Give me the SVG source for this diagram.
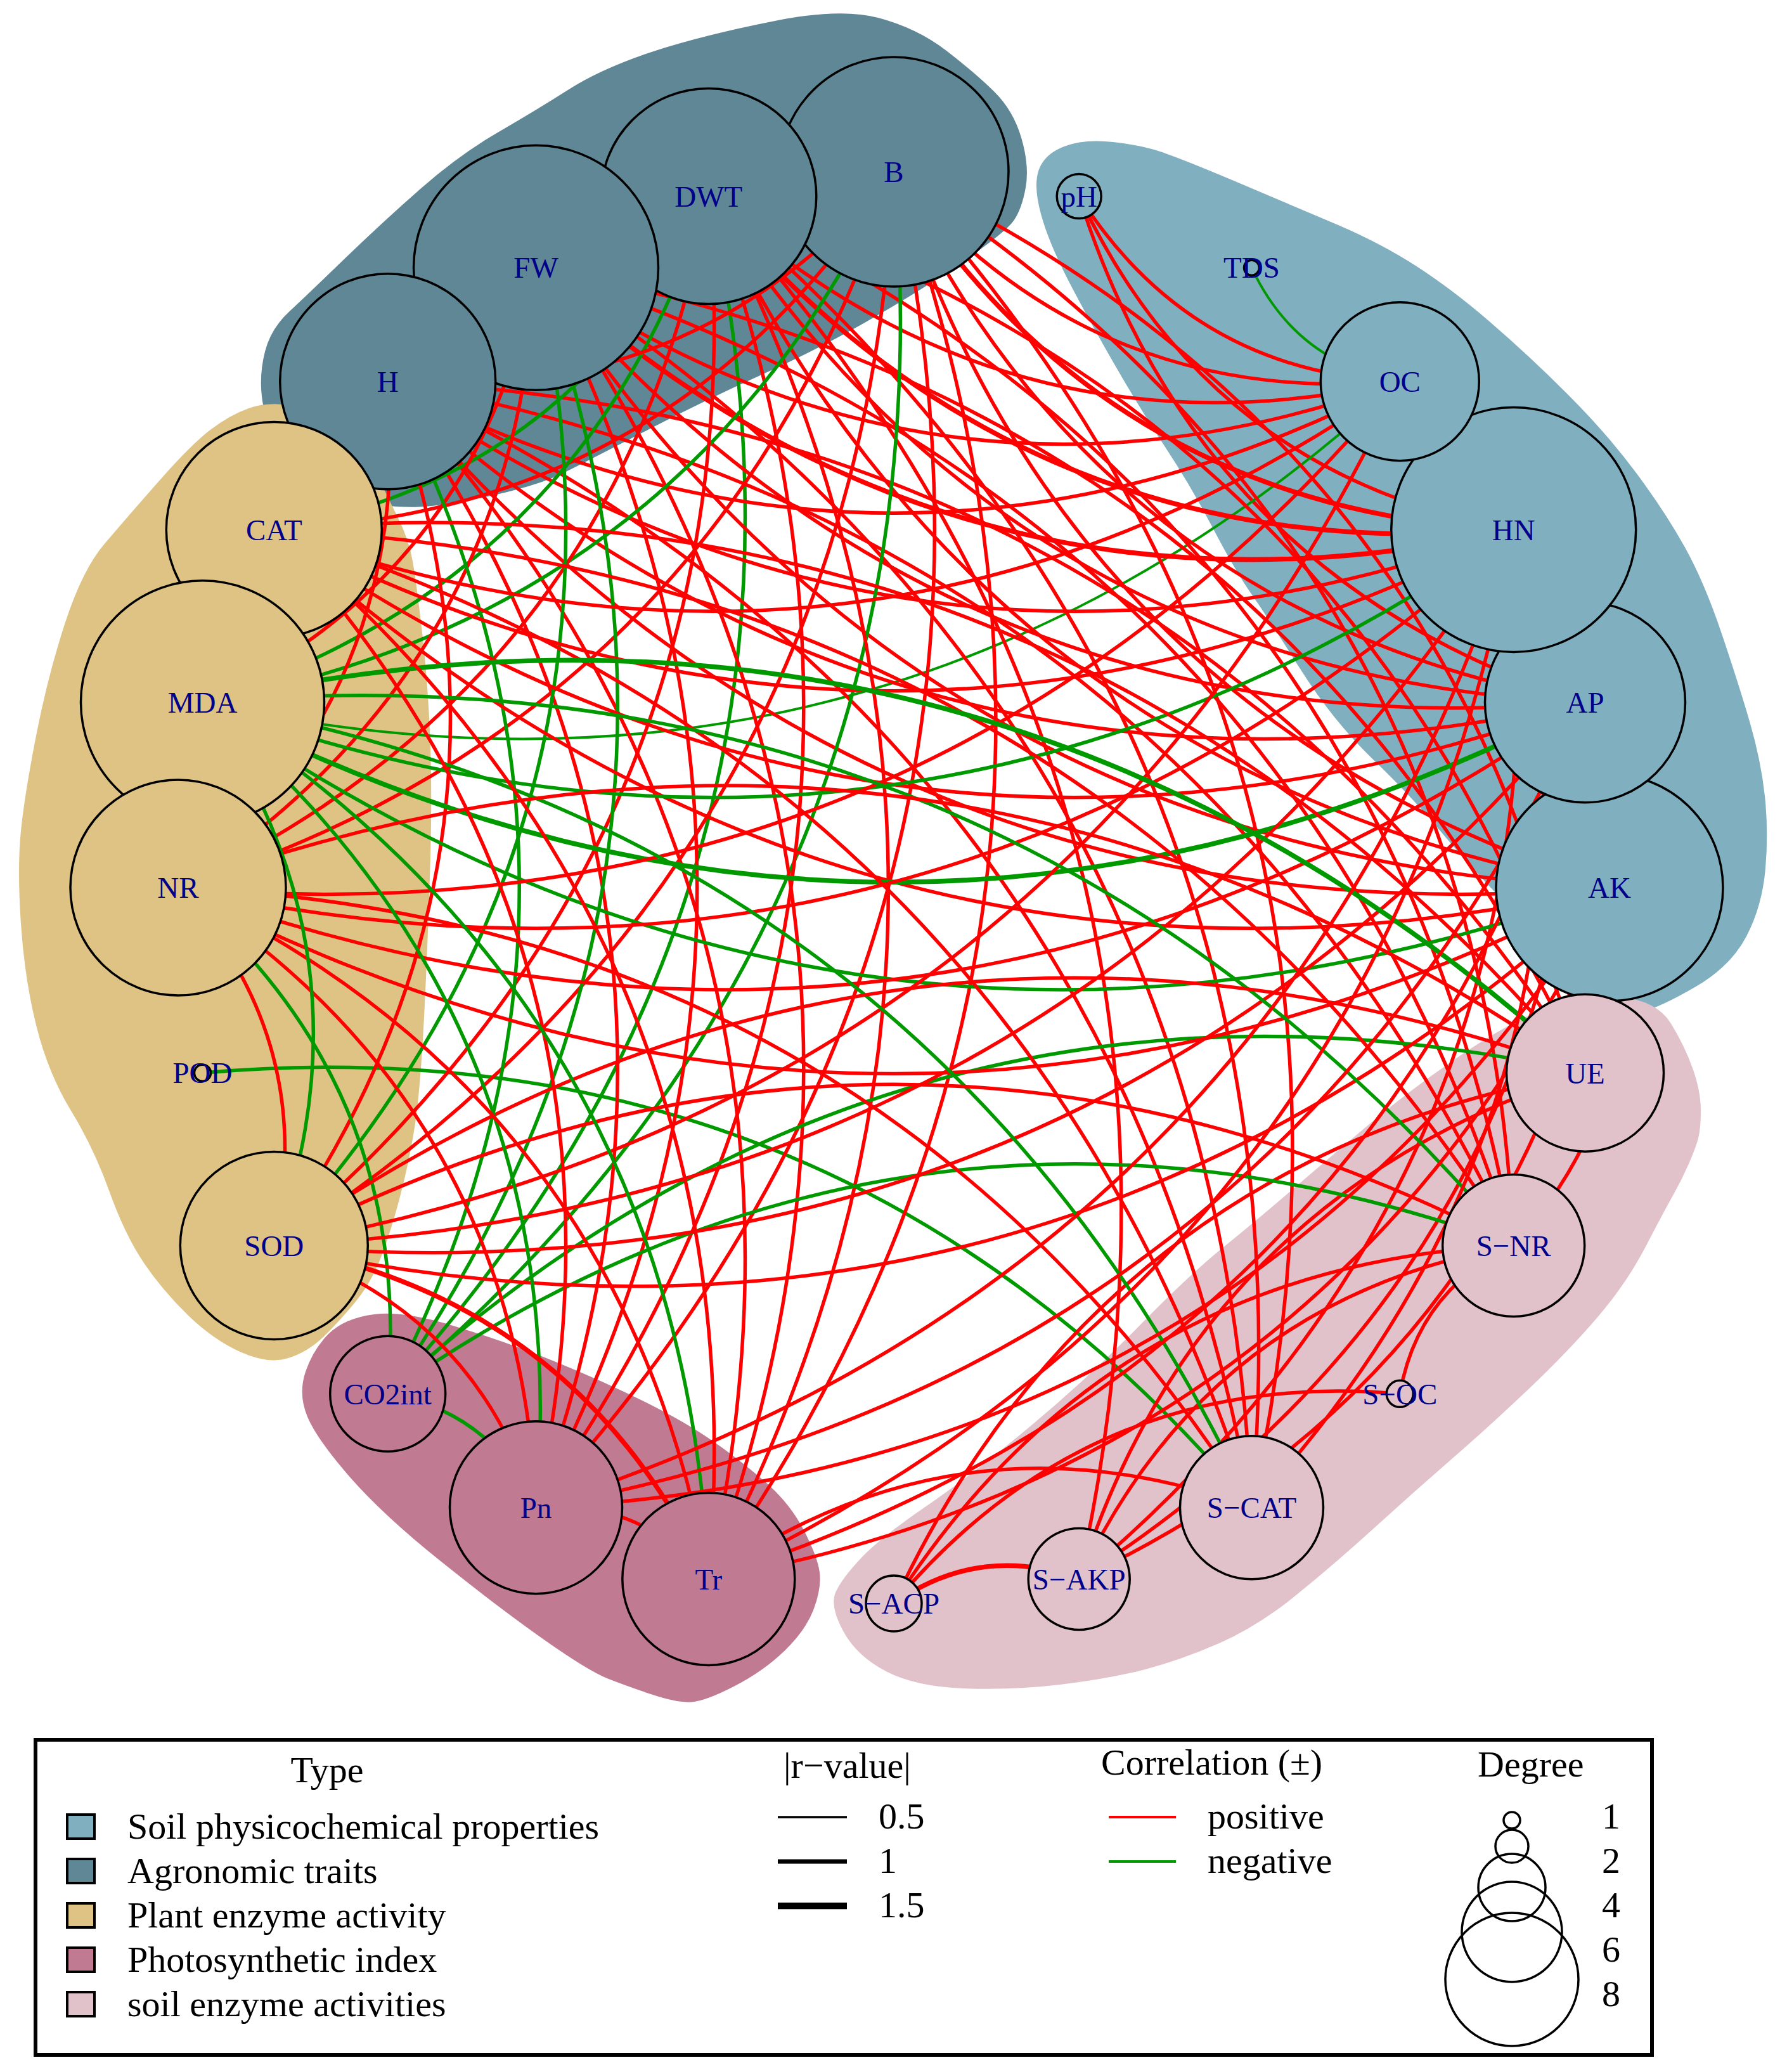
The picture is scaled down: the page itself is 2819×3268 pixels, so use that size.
<svg xmlns="http://www.w3.org/2000/svg" width="2819" height="3268" viewBox="0 0 2819 3268">
<style>
.hull{stroke-width:6;stroke-linejoin:round}
.h-sp{fill:#80AFC0;stroke:#80AFC0}.h-ag{fill:#5F8796;stroke:#5F8796}.h-pe{fill:#DEC385;stroke:#DEC385}.h-ph{fill:#C07A91;stroke:#C07A91}.h-se{fill:#E2C2CA;stroke:#E2C2CA}
#edges use{fill:none}
.r{stroke:#FF0000}.g{stroke:#009A00}
.w1{stroke-width:4}.w2{stroke-width:5.5}.w3{stroke-width:7.5}
.node circle{stroke:#000;stroke-width:3.5}
.sp{fill:#80AFC0}.ag{fill:#5F8796}.pe{fill:#DEC385}.ph{fill:#C07A91}.se{fill:#E2C2CA}
.lab{font-family:"Liberation Serif","Times New Roman",serif;font-size:47px;fill:#00008B;text-anchor:middle}
.lg{font-family:"Liberation Serif","Times New Roman",serif;font-size:58px;fill:#000}
</style>
<defs>
<path id="in15" d="M1262.6,280.7 Q1410,357.3 1557.4,280.7"/>
<path id="in30" d="M1117.8,309.5 Q1410,461.4 1702.2,309.5"/>
<path id="in45" d="M978,356.9 Q1410,581.6 1842,356.9"/>
<path id="in60" d="M845.5,422.3 Q1410,715.8 1974.5,422.3"/>
<path id="in75" d="M722.7,504.3 Q1410,861.7 2097.3,504.3"/>
<path id="in90" d="M611.7,601.7 Q1410,1016.8 2208.3,601.7"/>
<path id="in105" d="M514.3,712.7 Q1410,1178.5 2305.7,712.7"/>
<path id="in120" d="M432.3,835.5 Q1410,1343.9 2387.7,835.5"/>
<path id="in135" d="M366.9,968 Q1410,1510.4 2453.1,968"/>
<path id="in150" d="M319.5,1107.8 Q1410,1674.9 2500.5,1107.8"/>
<path id="in165" d="M290.7,1252.6 Q1410,1834.7 2529.3,1252.6"/>
<path id="in180" d="M281,1400 Q1410,1987.1 2539,1400"/>
<path id="out15" d="M1262.6,280.7 Q1410,204.1 1557.4,280.7"/>
<path id="out30" d="M1117.8,309.5 Q1410,157.6 1702.2,309.5"/>
<path id="out45" d="M978,356.9 Q1410,132.2 1842,356.9"/>
<path id="out75" d="M722.7,504.3 Q1410,146.9 2097.3,504.3"/>
<path id="out90" d="M611.7,601.7 Q1410,186.6 2208.3,601.7"/>
<path id="out105" d="M514.3,712.7 Q1410,246.9 2305.7,712.7"/>
<path id="out120" d="M432.3,835.5 Q1410,327.1 2387.7,835.5"/>
<path id="out135" d="M366.9,968 Q1410,425.6 2453.1,968"/>
<path id="out150" d="M319.5,1107.8 Q1410,540.7 2500.5,1107.8"/>
<path id="out165" d="M290.7,1252.6 Q1410,670.5 2529.3,1252.6"/>
</defs>
<rect x="0" y="0" width="2819" height="3268" fill="#FFFFFF"/>
<g id="groups">
<path id="group-soil-physicochemical" class="hull h-sp" d="M1645,337 Q1633,293 1641.5,269 Q1650,245 1680.5,233.5 Q1711,222 1755.5,227 Q1800,232 1830,242 Q1860,252 1951.5,290.5 Q2043,329 2110.5,358 Q2178,387 2233,422.5 Q2288,458 2349,510.5 Q2410,563 2471.5,624.5 Q2533,686 2579,748 Q2625,810 2655.5,865 Q2686,920 2713,1000 Q2740,1080 2757.5,1140 Q2775,1200 2781,1255.5 Q2787,1311 2782,1369.5 Q2777,1428 2752.5,1475 Q2728,1522 2673,1554 Q2618,1586 2589,1593 Q2560,1600 2494.5,1537.5 Q2429,1475 2377,1422 Q2325,1369 2276,1310.5 Q2227,1252 2166,1193.5 Q2105,1135 2053,1052.5 Q2001,970 1976.5,935 Q1952,900 1916,831.5 Q1880,763 1841,704 Q1802,645 1760,572 Q1718,499 1687.5,440 Q1657,381 1645,337 Z"/>
<path id="group-agronomic" class="hull h-ag" d="M416,625 Q412,590 421,555 Q430,520 457.5,494.5 Q485,469 545.5,410.5 Q606,352 666.5,299 Q727,246 787.5,211 Q848,176 899,143.5 Q950,111 1031,84 Q1112,58 1218,37 Q1324,15 1384.5,31 Q1445,47 1490.5,82 Q1536,117 1566,146.5 Q1596,176 1608.5,219 Q1621,262 1615,295.5 Q1609,329 1596.5,346.5 Q1584,364 1520.5,408 Q1457,452 1375.5,499 Q1294,546 1203,587 Q1112,628 1021,675 Q930,722 889,742.5 Q848,763 774,779 Q700,795 660,796.5 Q620,798 570,789 Q520,780 487.5,750 Q455,720 437.5,690 Q420,660 416,625 Z"/>
<path id="group-plant-enzyme" class="hull h-pe" d="M251.5,762.5 Q303,704 333.5,680.5 Q364,657 394,646.5 Q424,636 462,643 Q500,650 535,675 Q570,700 588,740 Q606,780 624,815.5 Q642,851 648,885.5 Q654,920 663,998 Q672,1076 675.5,1164 Q679,1252 675.5,1369.5 Q672,1487 666,1604 Q660,1721 651,1778 Q642,1835 627,1891 Q612,1947 597,1985 Q582,2023 557.5,2052.5 Q533,2082 509,2105.5 Q485,2129 454.5,2139 Q424,2149 381.5,2130 Q339,2111 299.5,2073 Q260,2035 230,1991 Q200,1947 175.5,1878.5 Q151,1810 115,1751 Q79,1692 60.5,1618.5 Q42,1545 36,1457 Q30,1369 36,1310.5 Q42,1252 60.5,1158 Q79,1064 106,982 Q133,900 166.5,860.5 Q200,821 251.5,762.5 Z"/>
<path id="group-photosynthetic" class="hull h-ph" d="M488,2234 Q473,2199 485,2164 Q497,2129 521,2105.5 Q545,2082 590.5,2076 Q636,2070 718,2095 Q800,2120 875,2150.5 Q950,2181 1015.5,2213.5 Q1081,2246 1126.5,2278 Q1172,2310 1208.5,2342.5 Q1245,2375 1266,2416 Q1287,2457 1290,2480.5 Q1293,2504 1281,2536.5 Q1269,2569 1236,2601 Q1203,2633 1157.5,2656.5 Q1112,2680 1090.5,2681.5 Q1069,2683 1030,2670 Q991,2657 960.5,2645 Q930,2633 859,2583 Q788,2533 697,2460 Q606,2387 554.5,2328 Q503,2269 488,2234 Z"/>
<path id="group-soil-enzyme" class="hull h-se" d="M1333,2571.5 Q1312,2533 1321,2512.5 Q1330,2492 1360,2460 Q1390,2428 1463,2378 Q1536,2328 1627,2252 Q1718,2176 1799,2093.5 Q1880,2011 1931,1970 Q1982,1929 2043.5,1876 Q2105,1823 2166,1772 Q2227,1721 2303.5,1668.5 Q2380,1616 2440,1593 Q2500,1570 2556,1575.5 Q2612,1581 2633.5,1616 Q2655,1651 2667.5,1686.5 Q2680,1722 2680,1751 Q2680,1780 2676,1795 Q2672,1810 2661,1835 Q2650,1860 2637,1883 Q2624,1906 2593.5,1964.5 Q2563,2023 2517.5,2076 Q2472,2129 2410.5,2187.5 Q2349,2246 2288,2299 Q2227,2352 2166,2407.5 Q2105,2463 2043.5,2513 Q1982,2563 1921,2589.5 Q1860,2616 1804,2630.5 Q1748,2645 1672,2654 Q1596,2663 1520.5,2660 Q1445,2657 1399.5,2633.5 Q1354,2610 1333,2571.5 Z"/>
</g>
<g id="edges">
<use href="#in15" transform="rotate(37.5 1410 1400)" class="g w1"/>
<use href="#in105" transform="rotate(-157.5 1410 1400)" class="g w2"/>
<use href="#in15" transform="rotate(-142.5 1410 1400)" class="g w2"/>
<use href="#in15" transform="rotate(-157.5 1410 1400)" class="r w2"/>
<use href="#in15" transform="rotate(-187.5 1410 1400)" class="r w3"/>
<use href="#in45" transform="rotate(-202.5 1410 1400)" class="r w2"/>
<use href="#in15" transform="rotate(-232.5 1410 1400)" class="r w2"/>
<use href="#in30" transform="rotate(30 1410 1400)" class="r w2"/>
<use href="#in45" transform="rotate(37.5 1410 1400)" class="r w2"/>
<use href="#in60" transform="rotate(45 1410 1400)" class="r w2"/>
<use href="#in120" transform="rotate(-75 1410 1400)" class="g w2"/>
<use href="#in120" transform="rotate(-15 1410 1400)" class="g w1"/>
<use href="#in75" transform="rotate(-217.5 1410 1400)" class="r w2"/>
<use href="#in60" transform="rotate(-210 1410 1400)" class="r w2"/>
<use href="#in180" transform="rotate(-105 1410 1400)" class="r w2"/>
<use href="#in45" transform="rotate(-187.5 1410 1400)" class="r w2"/>
<use href="#in60" transform="rotate(-225 1410 1400)" class="r w2"/>
<use href="#in45" transform="rotate(-217.5 1410 1400)" class="r w2"/>
<use href="#out75" transform="rotate(-232.5 1410 1400)" class="r w2"/>
<use href="#out90" transform="rotate(-240 1410 1400)" class="r w2"/>
<use href="#out105" transform="rotate(-247.5 1410 1400)" class="r w2"/>
<use href="#in45" transform="rotate(22.5 1410 1400)" class="r w2"/>
<use href="#in60" transform="rotate(30 1410 1400)" class="r w3"/>
<use href="#in75" transform="rotate(37.5 1410 1400)" class="r w2"/>
<use href="#in90" transform="rotate(45 1410 1400)" class="r w2"/>
<use href="#in60" transform="rotate(15 1410 1400)" class="r w2"/>
<use href="#in75" transform="rotate(22.5 1410 1400)" class="r w3"/>
<use href="#in90" transform="rotate(30 1410 1400)" class="r w2"/>
<use href="#in105" transform="rotate(37.5 1410 1400)" class="r w2"/>
<use href="#in75" transform="rotate(7.5 1410 1400)" class="r w2"/>
<use href="#in90" transform="rotate(15 1410 1400)" class="r w3"/>
<use href="#in105" transform="rotate(22.5 1410 1400)" class="r w2"/>
<use href="#in120" transform="rotate(30 1410 1400)" class="r w2"/>
<use href="#in90" transform="rotate(0 1410 1400)" class="r w2"/>
<use href="#in105" transform="rotate(7.5 1410 1400)" class="r w2"/>
<use href="#in120" transform="rotate(15 1410 1400)" class="r w2"/>
<use href="#in135" transform="rotate(22.5 1410 1400)" class="r w2"/>
<use href="#out105" transform="rotate(52.5 1410 1400)" class="r w2"/>
<use href="#out120" transform="rotate(60 1410 1400)" class="r w2"/>
<use href="#out150" transform="rotate(75 1410 1400)" class="r w2"/>
<use href="#out120" transform="rotate(45 1410 1400)" class="r w2"/>
<use href="#out135" transform="rotate(52.5 1410 1400)" class="r w2"/>
<use href="#out165" transform="rotate(67.5 1410 1400)" class="r w2"/>
<use href="#out135" transform="rotate(37.5 1410 1400)" class="r w2"/>
<use href="#out150" transform="rotate(45 1410 1400)" class="r w2"/>
<use href="#in180" transform="rotate(-120 1410 1400)" class="r w2"/>
<use href="#out150" transform="rotate(30 1410 1400)" class="r w2"/>
<use href="#out165" transform="rotate(37.5 1410 1400)" class="r w2"/>
<use href="#in165" transform="rotate(-127.5 1410 1400)" class="r w2"/>
<use href="#in150" transform="rotate(-75 1410 1400)" class="r w2"/>
<use href="#in165" transform="rotate(-82.5 1410 1400)" class="r w2"/>
<use href="#in135" transform="rotate(-67.5 1410 1400)" class="g w2"/>
<use href="#in135" transform="rotate(-82.5 1410 1400)" class="r w2"/>
<use href="#in150" transform="rotate(-90 1410 1400)" class="r w2"/>
<use href="#in120" transform="rotate(-90 1410 1400)" class="r w2"/>
<use href="#in135" transform="rotate(-97.5 1410 1400)" class="r w2"/>
<use href="#in105" transform="rotate(-97.5 1410 1400)" class="r w2"/>
<use href="#in120" transform="rotate(-105 1410 1400)" class="r w2"/>
<use href="#in120" transform="rotate(-60 1410 1400)" class="r w2"/>
<use href="#in90" transform="rotate(-45 1410 1400)" class="r w2"/>
<use href="#in75" transform="rotate(-37.5 1410 1400)" class="g w2"/>
<use href="#in60" transform="rotate(-30 1410 1400)" class="r w2"/>
<use href="#in105" transform="rotate(-67.5 1410 1400)" class="r w2"/>
<use href="#in75" transform="rotate(-52.5 1410 1400)" class="r w2"/>
<use href="#in60" transform="rotate(-45 1410 1400)" class="g w2"/>
<use href="#in45" transform="rotate(-37.5 1410 1400)" class="g w2"/>
<use href="#in90" transform="rotate(-75 1410 1400)" class="g w2"/>
<use href="#in60" transform="rotate(-60 1410 1400)" class="r w2"/>
<use href="#in45" transform="rotate(-52.5 1410 1400)" class="r w2"/>
<use href="#in30" transform="rotate(-45 1410 1400)" class="g w2"/>
<use href="#in75" transform="rotate(-82.5 1410 1400)" class="r w2"/>
<use href="#in45" transform="rotate(-67.5 1410 1400)" class="r w2"/>
<use href="#in30" transform="rotate(-60 1410 1400)" class="g w2"/>
<use href="#in45" transform="rotate(-22.5 1410 1400)" class="r w2"/>
<use href="#in30" transform="rotate(-15 1410 1400)" class="r w2"/>
<use href="#in105" transform="rotate(-82.5 1410 1400)" class="g w2"/>
<use href="#in90" transform="rotate(-90 1410 1400)" class="g w2"/>
<use href="#in15" transform="rotate(-52.5 1410 1400)" class="r w2"/>
<use href="#in45" transform="rotate(-112.5 1410 1400)" class="g w2"/>
<use href="#in105" transform="rotate(-187.5 1410 1400)" class="g w2"/>
<use href="#in120" transform="rotate(-195 1410 1400)" class="g w2"/>
<use href="#in150" transform="rotate(15 1410 1400)" class="r w2"/>
<use href="#in135" transform="rotate(7.5 1410 1400)" class="r w2"/>
<use href="#in120" transform="rotate(0 1410 1400)" class="r w2"/>
<use href="#in105" transform="rotate(-7.5 1410 1400)" class="r w2"/>
<use href="#in165" transform="rotate(7.5 1410 1400)" class="g w2"/>
<use href="#in150" transform="rotate(0 1410 1400)" class="g w3"/>
<use href="#in135" transform="rotate(-7.5 1410 1400)" class="g w2"/>
<use href="#in180" transform="rotate(0 1410 1400)" class="r w2"/>
<use href="#in165" transform="rotate(-7.5 1410 1400)" class="r w2"/>
<use href="#in150" transform="rotate(-15 1410 1400)" class="r w2"/>
<use href="#in135" transform="rotate(-22.5 1410 1400)" class="r w2"/>
<use href="#out150" transform="rotate(-195 1410 1400)" class="r w2"/>
<use href="#out165" transform="rotate(-202.5 1410 1400)" class="r w2"/>
<use href="#in180" transform="rotate(-30 1410 1400)" class="r w2"/>
<use href="#in165" transform="rotate(-37.5 1410 1400)" class="r w2"/>
<use href="#out165" transform="rotate(22.5 1410 1400)" class="r w2"/>
<use href="#in180" transform="rotate(-150 1410 1400)" class="r w2"/>
<use href="#in150" transform="rotate(-135 1410 1400)" class="r w2"/>
<use href="#in180" transform="rotate(-165 1410 1400)" class="g w3"/>
<use href="#in165" transform="rotate(-157.5 1410 1400)" class="g w2"/>
<use href="#in135" transform="rotate(-142.5 1410 1400)" class="g w2"/>
<use href="#in165" transform="rotate(-172.5 1410 1400)" class="r w2"/>
<use href="#in120" transform="rotate(-150 1410 1400)" class="r w2"/>
<use href="#in135" transform="rotate(-187.5 1410 1400)" class="r w2"/>
<use href="#in120" transform="rotate(-180 1410 1400)" class="r w2"/>
<use href="#in90" transform="rotate(-105 1410 1400)" class="r w2"/>
<use href="#in105" transform="rotate(-112.5 1410 1400)" class="r w2"/>
<use href="#in75" transform="rotate(-112.5 1410 1400)" class="g w2"/>
<use href="#in90" transform="rotate(-120 1410 1400)" class="g w2"/>
<use href="#in60" transform="rotate(-120 1410 1400)" class="r w2"/>
<use href="#in75" transform="rotate(-127.5 1410 1400)" class="r w2"/>
<use href="#in30" transform="rotate(-135 1410 1400)" class="r w2"/>
<use href="#in45" transform="rotate(-142.5 1410 1400)" class="r w3"/>
<use href="#out120" transform="rotate(-210 1410 1400)" class="r w2"/>
<use href="#out150" transform="rotate(-225 1410 1400)" class="r w2"/>
<use href="#out105" transform="rotate(-217.5 1410 1400)" class="r w2"/>
<use href="#out135" transform="rotate(-232.5 1410 1400)" class="r w2"/>
<use href="#in30" transform="rotate(-105 1410 1400)" class="r w2"/>
<use href="#in30" transform="rotate(-75 1410 1400)" class="r w2"/>
<use href="#in15" transform="rotate(-67.5 1410 1400)" class="g w2"/>
<use href="#in15" transform="rotate(82.5 1410 1400)" class="r w2"/>
<use href="#in30" transform="rotate(75 1410 1400)" class="r w2"/>
<use href="#in15" transform="rotate(67.5 1410 1400)" class="r w2"/>
<use href="#in15" transform="rotate(52.5 1410 1400)" class="r w2"/>
<use href="#out90" transform="rotate(-255 1410 1400)" class="r w2"/>
<use href="#out15" transform="rotate(-262.5 1410 1400)" class="g w1"/>
<use href="#out30" transform="rotate(-255 1410 1400)" class="r w2"/>
<use href="#out120" transform="rotate(-225 1410 1400)" class="r w2"/>
<use href="#out135" transform="rotate(-217.5 1410 1400)" class="r w2"/>
<use href="#out45" transform="rotate(-277.5 1410 1400)" class="r w2"/>
<use href="#in45" transform="rotate(-97.5 1410 1400)" class="g w2"/>
<use href="#in15" transform="rotate(-82.5 1410 1400)" class="r w2"/>
</g>
<g id="nodes">
<g id="node-AK" class="node"><circle class="sp" cx="2539" cy="1400" r="179"/><text class="lab" x="2539" y="1416">AK</text></g>
<g id="node-AP" class="node"><circle class="sp" cx="2500.5" cy="1107.8" r="158"/><text class="lab" x="2500.5" y="1124">AP</text></g>
<g id="node-HN" class="node"><circle class="sp" cx="2387.7" cy="835.5" r="193"/><text class="lab" x="2387.7" y="852">HN</text></g>
<g id="node-OC" class="node"><circle class="sp" cx="2208.3" cy="601.7" r="125"/><text class="lab" x="2208.3" y="618">OC</text></g>
<g id="node-TDS" class="node"><circle class="sp" cx="1974.5" cy="422.3" r="12"/><text class="lab" x="1974.5" y="438">TDS</text></g>
<g id="node-pH" class="node"><circle class="sp" cx="1702.2" cy="309.5" r="35"/><text class="lab" x="1702.2" y="326">pH</text></g>
<g id="node-B" class="node"><circle class="ag" cx="1410" cy="271" r="181"/><text class="lab" x="1410" y="287">B</text></g>
<g id="node-DWT" class="node"><circle class="ag" cx="1117.8" cy="309.5" r="170"/><text class="lab" x="1117.8" y="326">DWT</text></g>
<g id="node-FW" class="node"><circle class="ag" cx="845.5" cy="422.3" r="193"/><text class="lab" x="845.5" y="438">FW</text></g>
<g id="node-H" class="node"><circle class="ag" cx="611.7" cy="601.7" r="170"/><text class="lab" x="611.7" y="618">H</text></g>
<g id="node-CAT" class="node"><circle class="pe" cx="432.3" cy="835.5" r="170"/><text class="lab" x="432.3" y="852">CAT</text></g>
<g id="node-MDA" class="node"><circle class="pe" cx="319.5" cy="1107.8" r="192"/><text class="lab" x="319.5" y="1124">MDA</text></g>
<g id="node-NR" class="node"><circle class="pe" cx="281" cy="1400" r="170"/><text class="lab" x="281" y="1416">NR</text></g>
<g id="node-POD" class="node"><circle class="pe" cx="319.5" cy="1692.2" r="13"/><text class="lab" x="319.5" y="1708">POD</text></g>
<g id="node-SOD" class="node"><circle class="pe" cx="432.3" cy="1964.5" r="148"/><text class="lab" x="432.3" y="1981">SOD</text></g>
<g id="node-CO2int" class="node"><circle class="ph" cx="611.7" cy="2198.3" r="91"/><text class="lab" x="611.7" y="2215">CO2int</text></g>
<g id="node-Pn" class="node"><circle class="ph" cx="845.5" cy="2377.7" r="136"/><text class="lab" x="845.5" y="2394">Pn</text></g>
<g id="node-Tr" class="node"><circle class="ph" cx="1117.8" cy="2490.5" r="136"/><text class="lab" x="1117.8" y="2507">Tr</text></g>
<g id="node-S-ACP" class="node"><circle class="se" cx="1410" cy="2529" r="44"/><text class="lab" x="1410" y="2545">S−ACP</text></g>
<g id="node-S-AKP" class="node"><circle class="se" cx="1702.2" cy="2490.5" r="80"/><text class="lab" x="1702.2" y="2507">S−AKP</text></g>
<g id="node-S-CAT" class="node"><circle class="se" cx="1974.5" cy="2377.7" r="113"/><text class="lab" x="1974.5" y="2394">S−CAT</text></g>
<g id="node-S-OC" class="node"><circle class="se" cx="2208.3" cy="2198.3" r="21"/><text class="lab" x="2208.3" y="2215">S−OC</text></g>
<g id="node-S-NR" class="node"><circle class="se" cx="2387.7" cy="1964.5" r="112"/><text class="lab" x="2387.7" y="1981">S−NR</text></g>
<g id="node-UE" class="node"><circle class="se" cx="2500.5" cy="1692.2" r="124"/><text class="lab" x="2500.5" y="1709">UE</text></g>
</g>
<g id="legend">
<rect x="56" y="2744" width="2550" height="497" fill="none" stroke="#000" stroke-width="6"/>
<text class="lg" x="516" y="2811" text-anchor="middle">Type</text>
<rect x="106" y="2862" width="43" height="38" fill="#80AFC0" stroke="#000" stroke-width="4"/>
<rect x="106" y="2932" width="43" height="38" fill="#5F8796" stroke="#000" stroke-width="4"/>
<rect x="106" y="3002" width="43" height="38" fill="#DEC385" stroke="#000" stroke-width="4"/>
<rect x="106" y="3072" width="43" height="38" fill="#C07A91" stroke="#000" stroke-width="4"/>
<rect x="106" y="3142" width="43" height="38" fill="#E2C2CA" stroke="#000" stroke-width="4"/>
<text class="lg" x="201" y="2900">Soil physicochemical properties</text>
<text class="lg" x="201" y="2970">Agronomic traits</text>
<text class="lg" x="201" y="3040">Plant enzyme activity</text>
<text class="lg" x="201" y="3110">Photosynthetic index</text>
<text class="lg" x="201" y="3180">soil enzyme activities</text>
<text class="lg" x="1236" y="2804">|r−value|</text>
<line x1="1227" y1="2866" x2="1336" y2="2866" stroke="#000" stroke-width="3.5"/>
<line x1="1227" y1="2936" x2="1336" y2="2936" stroke="#000" stroke-width="7"/>
<line x1="1227" y1="3006" x2="1336" y2="3006" stroke="#000" stroke-width="10.5"/>
<text class="lg" x="1386" y="2884">0.5</text>
<text class="lg" x="1386" y="2954">1</text>
<text class="lg" x="1386" y="3024">1.5</text>
<text class="lg" x="1737" y="2799">Correlation (±)</text>
<line x1="1749" y1="2866" x2="1855" y2="2866" stroke="#FF0000" stroke-width="4"/>
<line x1="1749" y1="2936" x2="1855" y2="2936" stroke="#009A00" stroke-width="4"/>
<text class="lg" x="1905" y="2884">positive</text>
<text class="lg" x="1905" y="2954">negative</text>
<text class="lg" x="2331" y="2802">Degree</text>
<g fill="none" stroke="#000" stroke-width="3.5">
<circle cx="2385" cy="2871" r="13"/>
<circle cx="2385" cy="2912" r="26"/>
<circle cx="2385" cy="2977" r="53"/>
<circle cx="2385" cy="3047" r="79"/>
<circle cx="2385" cy="3122" r="105"/>
</g>
<text class="lg" x="2527" y="2884">1</text>
<text class="lg" x="2527" y="2954">2</text>
<text class="lg" x="2527" y="3024">4</text>
<text class="lg" x="2527" y="3094">6</text>
<text class="lg" x="2527" y="3164">8</text>
</g>
</svg>
